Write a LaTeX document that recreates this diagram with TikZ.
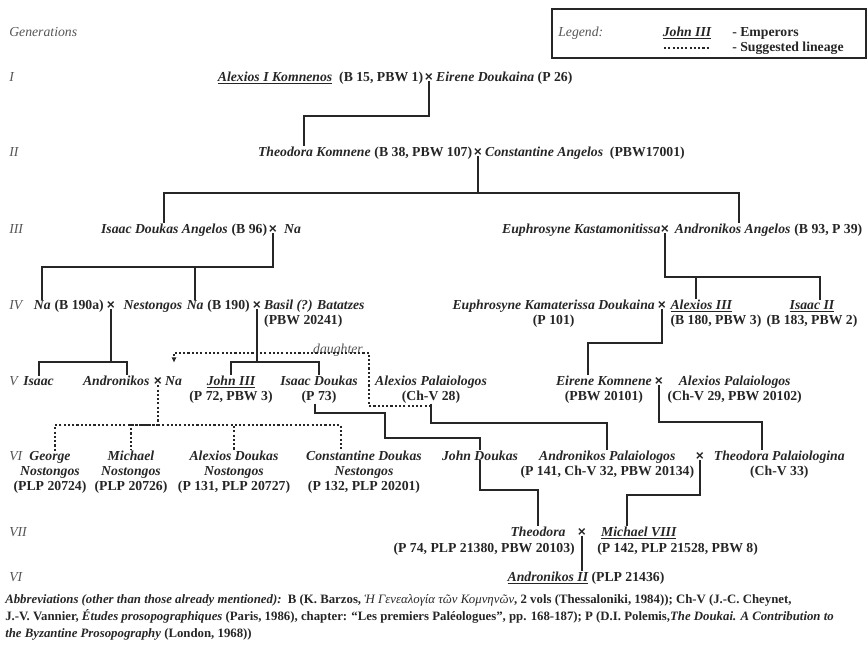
\documentclass[tikz,border=0pt]{standalone}
\usepackage{fontspec}
\setmainfont{Liberation Serif}
\newfontfamily\crossfont{Liberation Sans}
\usetikzlibrary{positioning, calc, arrows.meta}
\definecolor{ink}{HTML}{262626}
\definecolor{soft}{HTML}{555555}

\begin{document}
\fontsize{10.3}{11.6}\selectfont
\begin{tikzpicture}[x=0.75pt, y=-0.75pt, >=Latex]
      \tikzstyle{who} = [font=\bfseries\itshape, inner sep=0pt, text=ink]
      \tikzstyle{refs} = [font=\bfseries, inner sep=0pt, text=ink]
      \tikzstyle{person} = [font=\bfseries, inner sep=0pt, align=center, text=ink]
      \tikzstyle{two} = [yshift=-11.6pt]
      \tikzstyle{three} = [yshift=-23.2pt]
      \tikzstyle{wed} = [font=\crossfont\bfseries, inner sep=0pt, text=ink, anchor=base]
      \tikzstyle{genlabel} = [font=\itshape, inner sep=0pt, text=soft, anchor=base west]
      \tikzstyle{kin} = [line width=1.5pt, draw=ink]
      \tikzstyle{guess} = [line width=1.6pt, draw=ink, dash pattern=on 1.6pt off 1.6pt]

      \useasboundingbox (0,0) rectangle (868,647);

      \node[genlabel] (gens) at (9,36) {Generations};
      \node[genlabel] (gen1) at (9,81) {I};
      \node[genlabel] (gen2) at (9,156) {II};
      \node[genlabel] (gen3) at (9,233) {III};
      \node[genlabel] (gen4) at (9,309) {IV};
      \node[genlabel] (gen5) at (9,385) {V};
      \node[genlabel] (gen6) at (9,460) {VI};
      \node[genlabel] (gen7) at (9,536) {VII};
      \node[genlabel] (gen8) at (9,581) {VI};

      \node[draw=ink, line width=1.5pt, minimum width=235pt, minimum height=36.5pt, inner sep=0pt] (legend) at (709,33.5) {};
      \node[genlabel] (legendtitle) at (558,36) {Legend:};
      \node[who, anchor=base] (legendemp) at (687,36) {\underline{John III}};
      \coordinate (legdota) at (664,48);
      \coordinate (legdotb) at (709,48);
      \node[refs, anchor=base west] (legendemptext) at (732,36) {- Emperors};
      \node[refs, anchor=base west] (legendguess) at (732,51) {- Suggested lineage};
      \draw[guess] (legdota) -- (legdotb);

      \node[wed] (m1) at (429,81) {×};
      \node[refs, base left=1pt of m1] (alexios1) {\textit{\underline{Alexios I Komnenos}}\ \ (B 15, PBW 1)};
      \node[who, base right=2pt of m1] (eirene) {Eirene Doukaina \textup{(P 26)}};

      \node[wed] (m2) at (478,156) {×};
      \node[refs, base left=1pt of m2] (theodorakref) {(B 38, PBW 107)};
      \node[who, base left=2.5pt of theodorakref] (theodorak) {Theodora Komnene};
      \node[who, base right=2pt of m2] (constantine) {Constantine Angelos\ \ \textup{(PBW17001)}};

      \draw[kin] (m1.south) -- ++(0,35) -| ($(theodorak.north)+(-10,0)$);

      \node[wed] (m3) at (273,233) {×};
      \node[refs, base left=1pt of m3] (isaacdaref) {(B 96)};
      \node[who, base left=2.5pt of isaacdaref] (isaacda) {Isaac Doukas Angelos};
      \node[who, base right=5pt of m3] (na0) {Na};
      \node[wed] (m4) at (665,233) {×};
      \node[who, base left=0pt of m4] (euphrosynek) {Euphrosyne Kastamonitissa};
      \node[who, base right=4pt of m4] (andronikosa) {Andronikos Angelos};
      \node[refs, base right=2.5pt of andronikosa] (andronikosaref) {(B 93, P 39)};

      \draw[kin] (m2.south) -- ++(0,37) coordinate (b2) -| (isaacda.north) (b2) -| ($(andronikosa.north)+(6,0)$);

      \node[wed] (m5) at (111,309) {×};
      \node[refs, base left=2pt of m5] (na1ref) {(B 190a)};
      \node[who, base left=2.5pt of na1ref] (na1) {Na};
      \node[who, base right=6pt of m5] (nestongos) {Nestongos};
      \node[wed] (m6) at (257,309) {×};
      \node[refs, base left=2pt of m6] (na2ref) {(B 190)};
      \node[who, base left=2.5pt of na2ref] (na2) {Na};
      \node[person, align=left, base right=2pt of m6, two] (basil) {\textit{Basil (?) Batatzes}\\(PBW 20241)};
      \node[wed] (m7) at (662,309) {×};
      \node[person, base left=2pt of m7, two] (euphrosynekd) {\textit{Euphrosyne Kamaterissa Doukaina}\\(P 101)};
      \node[person, align=left, base right=3pt of m7, two] (alexios3) {\textit{\underline{Alexios III}}\\(B 180, PBW 3)};
      \node[person, anchor=base, two] (isaac2) at (812,309) {\textit{\underline{Isaac II}}\\(B 183, PBW 2)};

      \draw[kin] (m3.south) -- ++(0,34) coordinate (b3) -| (na1.north) (b3) -| (na2.north);
      \draw[kin] (m4.south) -- ++(0,44) coordinate (b4) -| ($(alexios3.north)+(-20,0)$) (b4) -| ($(isaac2.north)+(8,0)$);

      \node[who, anchor=base west] (isaacv) at (23,385) {Isaac};
      \node[wed] (m8) at (158,385) {×};
      \node[who, base left=3pt of m8] (andronikosv) {Andronikos};
      \node[who, base right=2pt of m8] (na3) {Na};
      \node[person, anchor=base, two] (john3) at (231,385) {\textit{\underline{John III}}\\(P 72, PBW 3)};
      \node[person, anchor=base, two] (isaacd) at (319,385) {\textit{Isaac Doukas}\\(P 73)};
      \node[person, anchor=base, two] (alexiosp1) at (431,385) {\textit{Alexios Palaiologos}\\(Ch-V 28)};
      \node[wed] (m9) at (659,385) {×};
      \node[person, base left=2pt of m9, two] (eirenek) {\textit{Eirene Komnene}\\(PBW 20101)};
      \node[person, base right=3pt of m9, two] (alexiosp2) {\textit{Alexios Palaiologos}\\(Ch-V 29, PBW 20102)};

      \draw[kin] (m5.south) -- ++(0,53) coordinate (b5) -| (isaacv.north) (b5) -| ($(andronikosv.north)+(11,0)$);
      \draw[kin] (m6.south) -- ++(0,53) coordinate (b6) -| (john3.north) (b6) -| (isaacd.north);
      \draw[kin] (m7.south) -- ++(0,34) -| ($(eirenek.north)+(-16,0)$);

      \node[person, anchor=base, three] (george) at (50,460) {\textit{George}\\\textit{Nostongos}\\(PLP 20724)};
      \node[person, anchor=base, three] (michael) at (131,460) {\textit{Michael}\\\textit{Nostongos}\\(PLP 20726)};
      \node[person, anchor=base, three] (alexiosdn) at (234,460) {\textit{Alexios Doukas}\\\textit{Nostongos}\\(P 131, PLP 20727)};
      \node[person, anchor=base, three] (constantinen) at (364,460) {\textit{Constantine Doukas}\\\textit{Nestongos}\\(P 132, PLP 20201)};
      \node[who, anchor=base] (johnd) at (480,460) {John Doukas};
      \node[wed] (m10) at (700,460) {×};
      \node[person, base left=1pt of m10, two] (andronikosp) {\textit{Andronikos Palaiologos}\\(P 141, Ch-V 32, PBW 20134)};
      \node[person, base right=7pt of m10, two] (theodorap) {\textit{Theodora Palaiologina}\\(Ch-V 33)};

      \node[font=\itshape, inner sep=0pt, text=soft, anchor=base] (daughter) at (338,353) {daughter};

      \draw[guess] (m8.south) -- ++(0,40) coordinate (b8) -| ($(george.north)+(5,0)$) (b8) -| (michael.north) (b8) -| (alexiosdn.north) (b8) -| ($(constantinen.north)+(-23,0)$);
      \draw[kin] ($(isaacd.south)+(-4,0)$) -- ++(0,9) -| ++(70,25) -| (johnd.north);
      \draw[kin] (alexiosp1.south) -- ++(0,19) -| (andronikosp.north);
      \draw[guess, -{Latex[length=4pt, width=4pt]}] ($(alexiosp1.south)+(0,2)$) -- ++(-62,0) -- ++(0,-53) -- ++(-195,0) -- ++(0,10);
      \draw[kin] (m9.south) -- ++(0,37) -| ($(theodorap.north)+(-17,0)$);

      \node[wed] (m11) at (582,536) {×};
      \node[who, base left=9pt of m11] (theodora) {Theodora};
      \node[who, base right=11pt of m11] (michael8) {\underline{Michael VIII}};
      \node[refs, anchor=base east] (theodoraref) at (575,552) {(P 74, PLP 21380, PBW 20103)};
      \node[refs, anchor=base west] (michael8ref) at (597,552) {(P 142, PLP 21528, PBW 8)};
      \node[refs, anchor=base] (andronikos2) at (586,581) {\textit{\underline{Andronikos II}} (PLP 21436)};

      \draw[kin] (johnd.south) -- ++(0,30) -| (theodora.north);
      \draw[kin] (m10.south) -- ++(0,35) -| ($(michael8.north)+(-12,0)$);
      \draw[kin] (m11.south) -- (m11.south |- andronikos2.north);

      \node[refs, align=left, anchor=base west, font=\bfseries\fontsize{9.6}{12.4}\selectfont] (abbrev) at (5,637) {\textit{Abbreviations (other than those already mentioned):}\ \ B (K. Barzos, {\mdseries\itshape Ἡ Γενεαλογία τῶν Κομνηνῶν}, 2 vols (Thessaloniki, 1984)); Ch-V (J.-C. Cheynet,\\J.-V. Vannier, \textit{Études prosopographiques} (Paris, 1986), chapter: “Les premiers Paléologues”, pp. 168-187); P (D.I. Polemis,\textit{The Doukai. A Contribution to}\\\textit{the Byzantine Prosopography} (London, 1968))};

    \end{tikzpicture}
\end{document}
